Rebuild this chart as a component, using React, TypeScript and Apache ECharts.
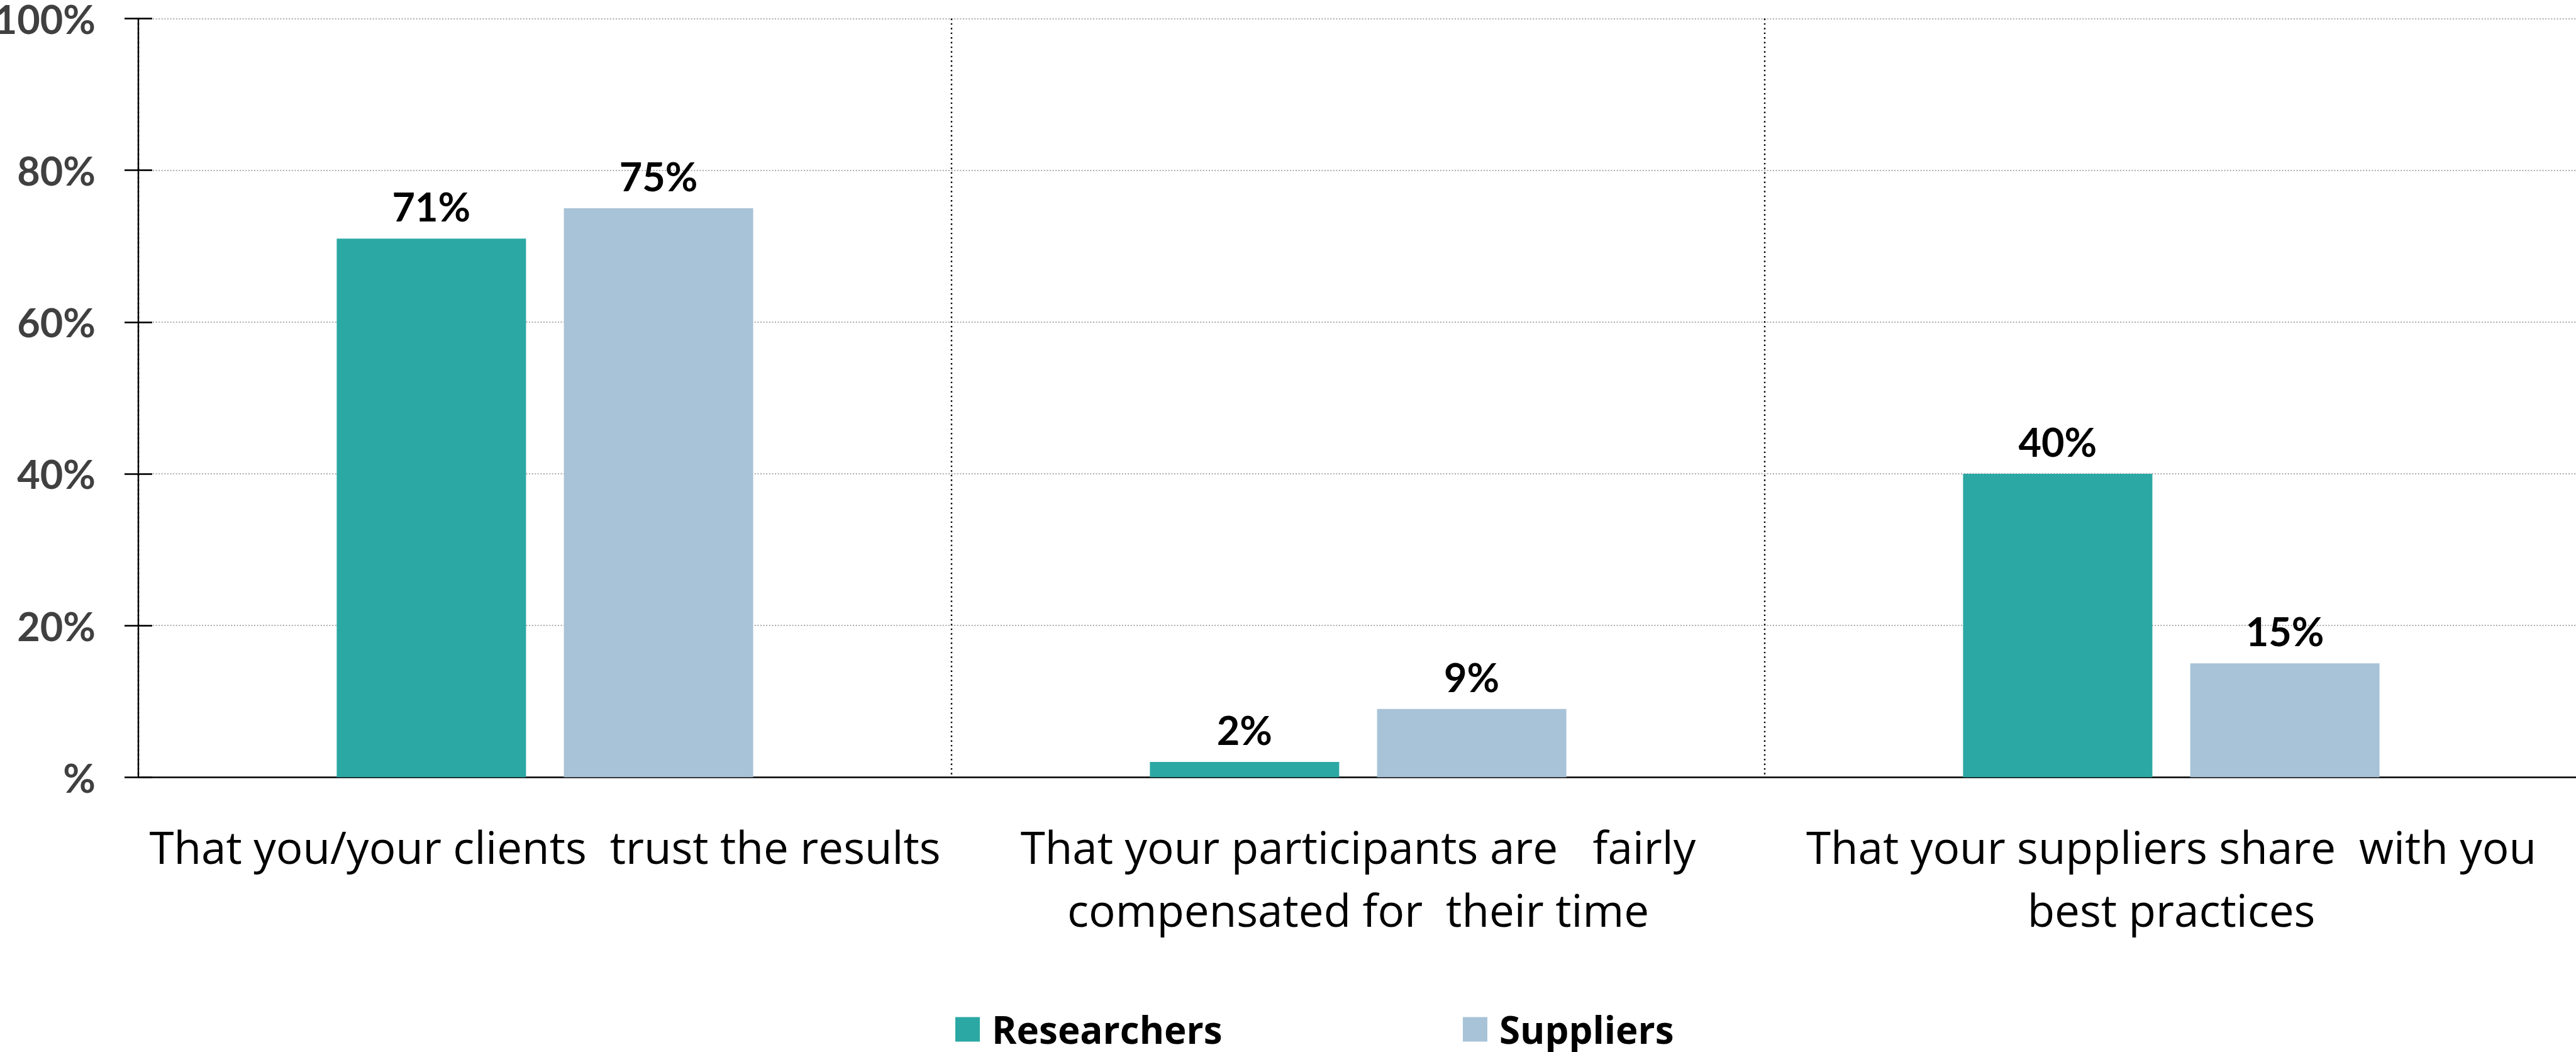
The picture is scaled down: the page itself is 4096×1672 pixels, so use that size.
import React, { useEffect, useRef } from "react";
import * as echarts from "echarts";

const categories = [
  "That you/your clients  trust the results",
  "That your participants are   fairly\ncompensated for  their time",
  "That your suppliers share  with you\nbest practices",
];
const researchers = [71, 2, 40];
const suppliers = [75, 9, 15];
const seriesNames = ["Researchers", "Suppliers"];
const colors = ["#2BA8A4", "#A8C3D7"];
const yMin = 0;
const yMax = 100;
const yStep = 20;

const NUM_FONT = "Lato, 'Open Sans', sans-serif";
const TXT_FONT = "'Open Sans', Lato, sans-serif";

export default function App() {
  const ref = useRef<HTMLDivElement>(null);

  useEffect(() => {
    if (!ref.current) return;
    const chart = echarts.init(ref.current, null, { renderer: "svg" });
    const legendCommon = {
      orient: "horizontal",
      icon: "rect",
      itemWidth: 39,
      itemHeight: 39,
      top: 1601,
      textStyle: {
        fontFamily: TXT_FONT,
        fontWeight: "bold",
        fontSize: 60,
        lineHeight: 56,
        color: "#000",
        padding: [0, 0, 0, 14],
      },
    };
    const barLabel = {
      show: true,
      position: "top",
      distance: 20,
      formatter: "{c}%",
      fontFamily: NUM_FONT,
      fontSize: 63,
      fontWeight: "bold",
      color: "#000",
    };
    chart.setOption({
      animation: false,
      backgroundColor: "#fff",
      color: colors,
      grid: {
        left: 220,
        top: 29.5,
        width: 3879,
        height: 1205.7,
        containLabel: false,
        outerBoundsMode: "none",
      },
      legend: [
        { ...legendCommon, left: 1514, data: [seriesNames[0]] },
        { ...legendCommon, left: 2321, data: [seriesNames[1]] },
      ],
      xAxis: {
        type: "category",
        data: categories,
        boundaryGap: true,
        axisLine: { show: true, lineStyle: { color: "#000", width: 2.5 } },
        axisTick: { show: false },
        axisLabel: {
          interval: 0,
          margin: 60,
          fontFamily: TXT_FONT,
          fontSize: 71,
          lineHeight: 100,
          color: "#000",
        },
        splitLine: {
          show: true,
          interval: 0,
          lineStyle: { color: "#000", width: 2.4, type: [2.4, 5] },
        },
      },
      yAxis: [
        {
          type: "value",
          min: yMin,
          max: yMax,
          interval: yStep,
          position: "left",
          axisLine: { show: true, lineStyle: { color: "#000", width: 2.4 } },
          axisTick: { show: true, inside: false, length: 22, lineStyle: { color: "#000", width: 2.6 } },
          axisLabel: {
            margin: 68,
            fontFamily: NUM_FONT,
            fontSize: 63,
            lineHeight: 50,
            fontWeight: "bold",
            color: "#404040",
            formatter: (v: number) => (v === 0 ? "%" : v + "%"),
          },
          splitLine: {
            show: true,
            lineStyle: { color: "#ABABAB", width: 2, type: [2, 2.6] },
          },
        },
        {
          type: "value",
          min: yMin,
          max: yMax,
          interval: yStep,
          position: "left",
          offset: 0,
          axisLine: { show: false },
          axisTick: { show: true, inside: true, length: 22, lineStyle: { color: "#000", width: 2.6 } },
          axisLabel: { show: false },
          splitLine: { show: false },
        },
      ],
      series: [
        {
          name: seriesNames[0],
          type: "bar",
          data: researchers,
          barWidth: 301,
          barGap: "20%",
          itemStyle: { color: colors[0] },
          label: barLabel,
        },
        {
          name: seriesNames[1],
          type: "bar",
          data: suppliers,
          barWidth: 301,
          barGap: "20%",
          itemStyle: { color: colors[1] },
          label: barLabel,
        },
      ],
    });
    return () => chart.dispose();
  }, []);

  return (
    <div
      ref={ref}
      style={{ position: "absolute", left: 0, top: 0, width: 4096, height: 1672 }}
    />
  );
}
